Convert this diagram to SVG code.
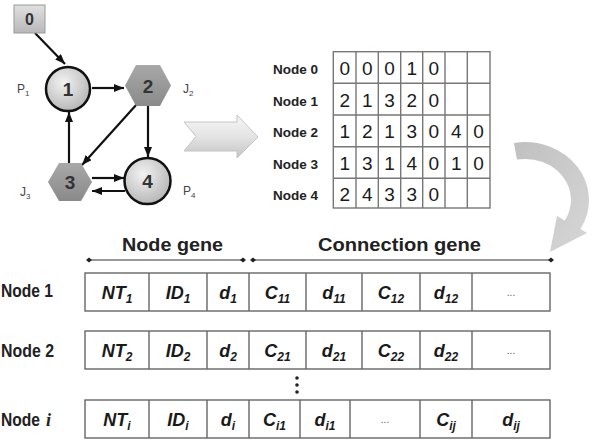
<svg xmlns="http://www.w3.org/2000/svg" width="593" height="440" viewBox="0 0 593 440">
<style>
.edge{stroke:#111;stroke-width:2.2;fill:none;marker-end:url(#ah)}
.nl{font-family:"Liberation Sans",Arial,sans-serif;font-weight:bold;fill:#333;text-anchor:middle}
.lbl{font-family:"Liberation Sans",Arial,sans-serif;font-size:12px;fill:#444}
.sub{font-size:8px}
.rl{font-family:"Liberation Sans",Arial,sans-serif;font-weight:bold;font-size:12px;fill:#222}
.dg{font-family:"Liberation Sans",Arial,sans-serif;font-size:19px;fill:#1a1a1a;text-anchor:middle}
.grid{stroke:#777;stroke-width:1.4;fill:none}
.cell{stroke:#666;stroke-width:1.4;fill:#fff}
.gt{font-family:"Liberation Sans",Arial,sans-serif;font-weight:bold;font-style:italic;font-size:18px;fill:#1a1a1a;text-anchor:middle}
.gs{font-size:12px}
.ell{font-family:"Liberation Sans",Arial,sans-serif;font-size:10px;fill:#555;text-anchor:middle}
.hd{font-family:"Liberation Sans",Arial,sans-serif;font-weight:bold;font-size:17.6px;fill:#222}
.brk{stroke:#333;stroke-width:1;fill:none}
</style>
<defs>
<marker id="ah" viewBox="0 0 10 8" refX="10" refY="4" markerWidth="10" markerHeight="8" markerUnits="userSpaceOnUse" orient="auto">
<path d="M0,0 L10,4 L0,8 Z" fill="#111"/>
</marker>
<radialGradient id="cg" cx="0.4" cy="0.35" r="0.7">
<stop offset="0" stop-color="#f2f2f2"/><stop offset="1" stop-color="#b4b4b4"/>
</radialGradient>
<linearGradient id="hg" x1="0" y1="0" x2="0" y2="1">
<stop offset="0" stop-color="#a8a8a8"/><stop offset="1" stop-color="#8a8a8a"/>
</linearGradient>
<linearGradient id="sg" x1="0" y1="0" x2="0" y2="1">
<stop offset="0" stop-color="#e0e0e0"/><stop offset="1" stop-color="#b8b8b8"/>
</linearGradient>
<linearGradient id="chg" x1="0" y1="0" x2="0" y2="1">
<stop offset="0" stop-color="#f6f6f6"/><stop offset="0.5" stop-color="#e4e4e4"/><stop offset="1" stop-color="#c4c4c4"/>
</linearGradient>
<linearGradient id="cug" x1="0" y1="0" x2="1" y2="1">
<stop offset="0" stop-color="#c0c0c0"/><stop offset="1" stop-color="#d6d6d6"/>
</linearGradient>
<marker id="dm" viewBox="0 0 6 6" refX="3" refY="3" markerWidth="6" markerHeight="6" markerUnits="userSpaceOnUse" orient="auto">
<path d="M0,3 L3,0.5 L6,3 L3,5.5 Z" fill="#222"/>
</marker>
</defs>

<g id="connectors">
<line class="edge" x1="35" y1="33" x2="65" y2="64"/>
<line class="edge" x1="92" y1="88" x2="124" y2="88"/>
<line class="edge" x1="137" y1="104" x2="82" y2="165"/>
<line class="edge" x1="148" y1="106" x2="148" y2="157"/>
<line class="edge" x1="69" y1="163" x2="69" y2="112"/>
<line class="edge" x1="92" y1="178" x2="124" y2="178"/>
<line class="edge" x1="125" y1="191" x2="92" y2="191"/>
</g>

<g id="node0">
<rect x="14" y="5" width="31" height="28" fill="url(#sg)" stroke="#9a9a9a" stroke-width="1"/>
<text class="nl" x="29.5" y="25" font-size="16">0</text>
</g>
<g id="node1">
<circle cx="68" cy="89" r="22" fill="url(#cg)" stroke="#111" stroke-width="2.5"/>
<text class="nl" x="68" y="96" font-size="19">1</text>
<text class="lbl" x="17" y="93">P<tspan class="sub" dy="3">1</tspan></text>
</g>
<g id="node2">
<polygon points="125,85.5 136,65 160,65 171,85.5 160,106 136,106" fill="url(#hg)"/>
<text class="nl" x="148" y="92.5" font-size="19">2</text>
<text class="lbl" x="183" y="93">J<tspan class="sub" dy="3">2</tspan></text>
</g>
<g id="node3">
<polygon points="48,182 59,163 81,163 92,182 81,201 59,201" fill="url(#hg)"/>
<text class="nl" x="70" y="189" font-size="19">3</text>
<text class="lbl" x="20" y="196">J<tspan class="sub" dy="3">3</tspan></text>
</g>
<g id="node4">
<circle cx="147.5" cy="181" r="23" fill="url(#cg)" stroke="#111" stroke-width="2.5"/>
<text class="nl" x="147.5" y="188" font-size="19">4</text>
<text class="lbl" x="183" y="195">P<tspan class="sub" dy="3">4</tspan></text>
</g>

<g id="chevron">
<polygon points="184,122 237,122 237,115 258,137 237,158 237,151 184,151 196,136.5" fill="url(#chg)" stroke="#c4c4c4" stroke-width="1"/>
</g>

<g id="table">
<rect class="grid" x="333.3" y="51.7" width="156.7" height="156.3"/>
<path class="grid" d="M356,51.7V208 M378.3,51.7V208 M400.7,51.7V208 M422.7,51.7V208 M445,51.7V208 M467.3,51.7V208 M333.3,83.3H490 M333.3,115H490 M333.3,146.7H490 M333.3,178.3H490"/>
<text class="rl" x="273" y="74" textLength="45" lengthAdjust="spacingAndGlyphs">Node 0</text>
<text class="rl" x="273" y="105.5" textLength="45" lengthAdjust="spacingAndGlyphs">Node 1</text>
<text class="rl" x="273" y="137" textLength="45" lengthAdjust="spacingAndGlyphs">Node 2</text>
<text class="rl" x="273" y="168.5" textLength="45" lengthAdjust="spacingAndGlyphs">Node 3</text>
<text class="rl" x="273" y="200" textLength="45" lengthAdjust="spacingAndGlyphs">Node 4</text>
<g class="dg">
<text x="344.7" y="75">0</text><text x="367.2" y="75">0</text><text x="389.5" y="75">0</text><text x="411.7" y="75">1</text><text x="433.8" y="75">0</text>
<text x="344.7" y="106.5">2</text><text x="367.2" y="106.5">1</text><text x="389.5" y="106.5">3</text><text x="411.7" y="106.5">2</text><text x="433.8" y="106.5">0</text>
<text x="344.7" y="138">1</text><text x="367.2" y="138">2</text><text x="389.5" y="138">1</text><text x="411.7" y="138">3</text><text x="433.8" y="138">0</text><text x="456.2" y="138">4</text><text x="478.6" y="138">0</text>
<text x="344.7" y="169.5">1</text><text x="367.2" y="169.5">3</text><text x="389.5" y="169.5">1</text><text x="411.7" y="169.5">4</text><text x="433.8" y="169.5">0</text><text x="456.2" y="169.5">1</text><text x="478.6" y="169.5">0</text>
<text x="344.7" y="201">2</text><text x="367.2" y="201">4</text><text x="389.5" y="201">3</text><text x="411.7" y="201">3</text><text x="433.8" y="201">0</text>
</g>
</g>

<g id="curved-arrow">
<path d="M513.9,142.9 A64,58 0 0 1 580.4,229 L587,233 L550,252 L557,216 L564.8,220.5 A46,41 0 0 0 517,159.6 Z" fill="url(#cug)"/>
</g>

<g id="genome">
<text class="hd" x="122" y="251" textLength="101" lengthAdjust="spacingAndGlyphs">Node gene</text>
<text class="hd" x="318" y="251" textLength="163" lengthAdjust="spacingAndGlyphs">Connection gene</text>
<line class="brk" x1="89" y1="260" x2="243" y2="260" marker-start="url(#dm)" marker-end="url(#dm)"/>
<line class="brk" x1="253" y1="260" x2="551" y2="260" marker-start="url(#dm)" marker-end="url(#dm)"/>

<text class="hd" x="1" y="297" textLength="52" lengthAdjust="spacingAndGlyphs">Node 1</text>
<text class="hd" x="1" y="357" textLength="53" lengthAdjust="spacingAndGlyphs">Node 2</text>
<text class="hd" x="1" y="426" textLength="39" lengthAdjust="spacingAndGlyphs">Node</text>
<text x="46" y="426" font-family="'Liberation Serif','Times New Roman',serif" font-style="italic" font-weight="bold" font-size="18" fill="#222">i</text>

<g id="row1">
<rect class="cell" x="85" y="273" width="465" height="38"/>
<path class="cell" d="M149,273V311 M207,273V311 M249,273V311 M306,273V311 M362,273V311 M420,273V311 M472,273V311"/>
<text class="gt" x="117" y="299">NT<tspan class="gs" dy="4">1</tspan></text>
<text class="gt" x="178" y="299">ID<tspan class="gs" dy="4">1</tspan></text>
<text class="gt" x="228" y="299">d<tspan class="gs" dy="4">1</tspan></text>
<text class="gt" x="277.5" y="299">C<tspan class="gs" dy="4">11</tspan></text>
<text class="gt" x="334" y="299">d<tspan class="gs" dy="4">11</tspan></text>
<text class="gt" x="391" y="299">C<tspan class="gs" dy="4">12</tspan></text>
<text class="gt" x="446" y="299">d<tspan class="gs" dy="4">12</tspan></text>
<text class="ell" x="511" y="296">...</text>
</g>
<g id="row2">
<rect class="cell" x="85" y="331" width="465" height="38"/>
<path class="cell" d="M149,331V369 M207,331V369 M249,331V369 M306,331V369 M362,331V369 M420,331V369 M472,331V369"/>
<text class="gt" x="117" y="357">NT<tspan class="gs" dy="4">2</tspan></text>
<text class="gt" x="178" y="357">ID<tspan class="gs" dy="4">2</tspan></text>
<text class="gt" x="228" y="357">d<tspan class="gs" dy="4">2</tspan></text>
<text class="gt" x="277.5" y="357">C<tspan class="gs" dy="4">21</tspan></text>
<text class="gt" x="334" y="357">d<tspan class="gs" dy="4">21</tspan></text>
<text class="gt" x="391" y="357">C<tspan class="gs" dy="4">22</tspan></text>
<text class="gt" x="446" y="357">d<tspan class="gs" dy="4">22</tspan></text>
<text class="ell" x="511" y="354">...</text>
</g>
<g id="vdots" fill="#222">
<circle cx="297" cy="378" r="1.8"/><circle cx="297" cy="385" r="1.8"/><circle cx="297" cy="392" r="1.8"/>
</g>
<g id="rowi">
<rect class="cell" x="85" y="400" width="465" height="38"/>
<path class="cell" d="M149,400V438 M207,400V438 M249,400V438 M300,400V438 M350,400V438 M420,400V438 M472,400V438"/>
<text class="gt" x="117" y="426">NT<tspan class="gs" dy="4">i</tspan></text>
<text class="gt" x="178" y="426">ID<tspan class="gs" dy="4">i</tspan></text>
<text class="gt" x="228" y="426">d<tspan class="gs" dy="4">i</tspan></text>
<text class="gt" x="274.5" y="426">C<tspan class="gs" dy="4">i1</tspan></text>
<text class="gt" x="325" y="426">d<tspan class="gs" dy="4">i1</tspan></text>
<text class="ell" x="385" y="423">...</text>
<text class="gt" x="446" y="426">C<tspan class="gs" dy="4">ij</tspan></text>
<text class="gt" x="511" y="426">d<tspan class="gs" dy="4">ij</tspan></text>
</g>
</g>
</svg>
